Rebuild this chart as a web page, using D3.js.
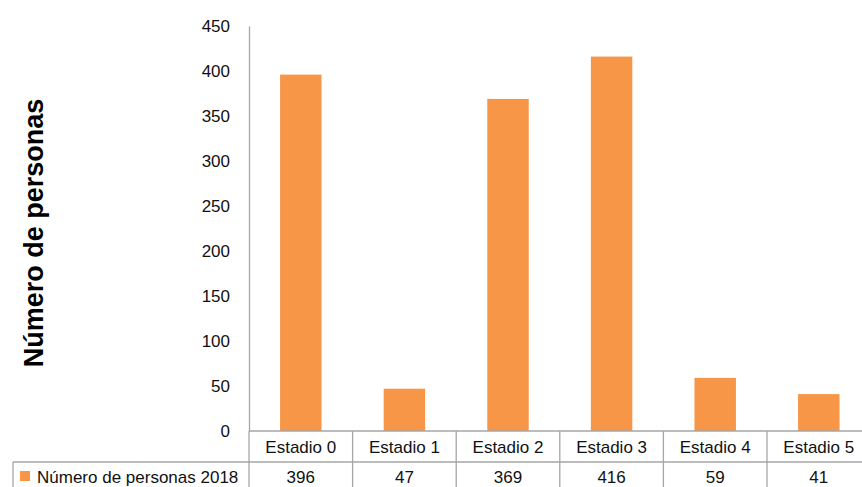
<!DOCTYPE html>
<html>
<head>
<meta charset="utf-8">
<script src="https://cdn.jsdelivr.net/npm/d3@7"></script>
<style>
  html, body { margin: 0; padding: 0; background: #fff; }
  svg { display: block; }
  text { font-family: "Liberation Sans", Arial, sans-serif; }
</style>
</head>
<body>
<svg id="chart" width="862" height="487"></svg>
<script>
const categories = ["Estadio 0", "Estadio 1", "Estadio 2", "Estadio 3", "Estadio 4", "Estadio 5"];
const values = [396, 47, 369, 416, 59, 41];
const seriesName = "Número de personas 2018";
const yTicks = [0, 50, 100, 150, 200, 250, 300, 350, 400, 450];
const yTitle = "Número de personas";

const W = 862, H = 487;
const plotLeft = 249, plotRight = 870.6, plotTop = 26, plotBottom = 431;
const rowY = 462, tableLeft = 13;
const barColor = "#F79646", lineColor = "#A6A6A6", textColor = "#111";

const svg = d3.select("#chart");

const x = d3.scaleBand().domain(categories).range([plotLeft, plotRight])
  .paddingInner(0.6).paddingOuter(0.3);
const y = d3.scaleLinear().domain([0, 450]).range([plotBottom, plotTop]);

// bars
svg.append("g").selectAll("rect").data(values).join("rect")
  .attr("x", (d, i) => x(categories[i]))
  .attr("y", d => y(d))
  .attr("width", x.bandwidth())
  .attr("height", d => y(0) - y(d))
  .attr("fill", barColor);

// y axis
const yAxis = d3.axisLeft(y).tickValues(yTicks).tickSize(0).tickPadding(19);
const gy = svg.append("g").attr("transform", `translate(${plotLeft},0)`).call(yAxis);
gy.select(".domain").attr("stroke", lineColor).attr("stroke-width", 1.3);
gy.selectAll(".tick text").attr("font-size", 17).attr("fill", textColor)
  .attr("font-family", "'Liberation Sans', Arial, sans-serif");

// y title
svg.append("text")
  .attr("transform", `translate(43,233) rotate(-90)`)
  .attr("text-anchor", "middle")
  .attr("font-size", 27).attr("font-weight", "bold").attr("fill", "#000")
  .text(yTitle);

// data table
const step = x.step();
const halfGap = (step - x.bandwidth()) / 2;
const t = svg.append("g").attr("stroke", lineColor).attr("stroke-width", 1.3);
t.append("line").attr("x1", plotLeft).attr("x2", W).attr("y1", plotBottom).attr("y2", plotBottom);
t.append("line").attr("x1", tableLeft).attr("x2", W).attr("y1", rowY).attr("y2", rowY);
t.append("line").attr("x1", tableLeft).attr("x2", tableLeft).attr("y1", rowY).attr("y2", H);
categories.forEach(c => {
  const bx = x(c) - halfGap;
  t.append("line").attr("x1", bx).attr("x2", bx).attr("y1", plotBottom).attr("y2", H);
});

svg.append("g").selectAll("text").data(categories).join("text")
  .attr("x", c => x(c) + x.bandwidth() / 2)
  .attr("y", 452.5)
  .attr("text-anchor", "middle").attr("font-size", 17).attr("fill", textColor)
  .text(c => c);

svg.append("g").selectAll("text").data(values).join("text")
  .attr("x", (d, i) => x(categories[i]) + x.bandwidth() / 2)
  .attr("y", 483)
  .attr("text-anchor", "middle").attr("font-size", 17).attr("fill", textColor)
  .text(d => d);

// legend key
svg.append("rect").attr("x", 20).attr("y", 471).attr("width", 10).attr("height", 10).attr("fill", barColor);
svg.append("text").attr("x", 37).attr("y", 483).attr("font-size", 17).attr("fill", textColor)
  .text(seriesName);
</script>
</body>
</html>
